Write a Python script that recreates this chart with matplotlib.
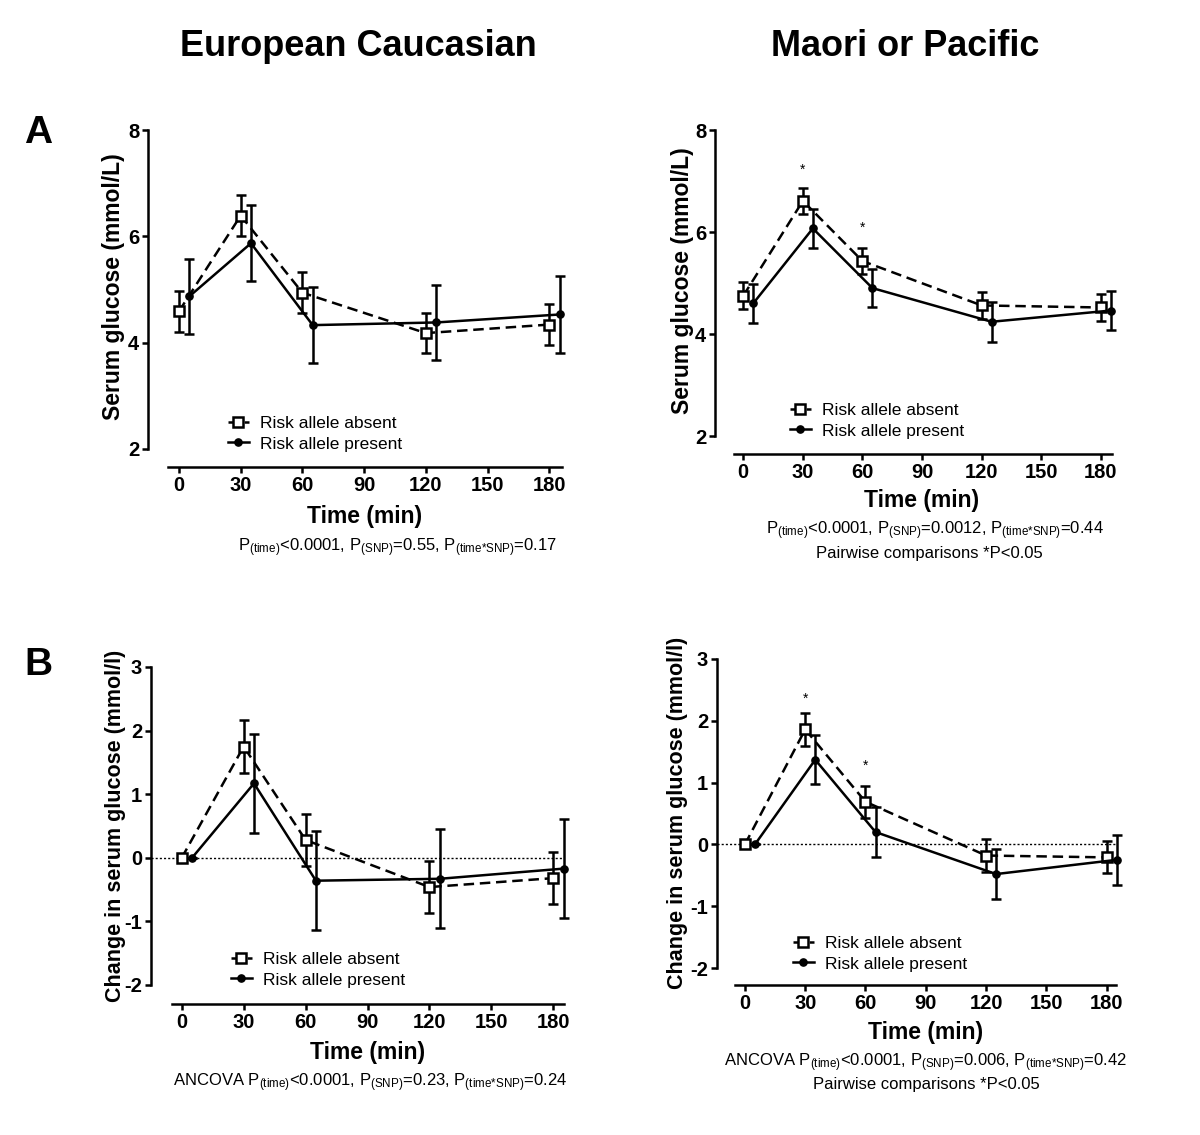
import matplotlib
matplotlib.use("Agg")
import matplotlib.pyplot as plt

plt.rcParams['font.family'] = ['Liberation Sans', 'DejaVu Sans']
plt.rcParams['mathtext.fontset'] = 'custom'
plt.rcParams['mathtext.rm'] = 'Liberation Sans'
plt.rcParams['mathtext.it'] = 'Liberation Sans'
plt.rcParams['mathtext.bf'] = 'Liberation Sans:bold'

# ---------------- data ----------------
times = [0, 30, 60, 120, 180]
x_ticks = [0, 30, 60, 90, 120, 150, 180]

# Panel A: serum glucose (mmol/L), mean and error
ec_abs_mean = [4.59, 6.39, 4.94, 4.18, 4.34]
ec_abs_err = [0.38, 0.39, 0.38, 0.38, 0.38]
ec_pres_mean = [4.87, 5.87, 4.33, 4.38, 4.53]
ec_pres_err = [0.71, 0.71, 0.71, 0.71, 0.72]

mp_abs_mean = [4.75, 6.61, 5.43, 4.56, 4.52]
mp_abs_err = [0.26, 0.25, 0.26, 0.26, 0.26]
mp_pres_mean = [4.60, 6.07, 4.90, 4.24, 4.46]
mp_pres_err = [0.39, 0.39, 0.38, 0.39, 0.38]

# Panel B: change in serum glucose (mmol/l)
ec_chg_abs_mean = [0.0, 1.75, 0.28, -0.46, -0.32]
ec_chg_abs_err = [0.0, 0.41, 0.41, 0.41, 0.41]
ec_chg_pres_mean = [0.0, 1.17, -0.36, -0.33, -0.17]
ec_chg_pres_err = [0.0, 0.78, 0.78, 0.78, 0.78]

mp_chg_abs_mean = [0.0, 1.86, 0.69, -0.18, -0.21]
mp_chg_abs_err = [0.0, 0.27, 0.26, 0.26, 0.26]
mp_chg_pres_mean = [0.0, 1.37, 0.20, -0.48, -0.25]
mp_chg_pres_err = [0.0, 0.40, 0.41, 0.40, 0.41]

# significance stars (time, y)
mp_a_star_t = [30, 60]
mp_a_star_y = [7.22, 6.09]
mp_b_star_t = [30, 60]
mp_b_star_y = [2.35, 1.28]

yticks_a = [2, 4, 6, 8]
yticks_b = [-2, -1, 0, 1, 2, 3]

label_abs = "Risk allele absent"
label_pres = "Risk allele present"

# ---------------- figure ----------------
W, H = 1200, 1135
DPI = 100
fig = plt.figure(figsize=(W / DPI, H / DPI), dpi=DPI)
PT = 72.0 / DPI  # points per pixel
NUDGE = 5  # horizontal nudge for the "present" series (minutes)
LW = 1.8


def fx(px):
    return px / W


def fy(py):
    return 1 - py / H


def make_axes(left, right, top, bottom, xl, xr, xb, ylim, yticks, offset_px):
    ax = fig.add_axes([fx(left), fy(bottom), fx(right - left), (bottom - top) / H])
    ax.set_xlim(xl, xr)
    ax.set_ylim(*ylim)
    for s in ['top', 'right']:
        ax.spines[s].set_visible(False)
    ax.spines['left'].set_linewidth(LW)
    ax.spines['bottom'].set_linewidth(LW)
    ax.spines['bottom'].set_position(('outward', offset_px * PT))
    ax.spines['bottom'].set_bounds(xb, xr)
    ax.set_xticks(x_ticks)
    ax.set_xticklabels([str(t) for t in x_ticks], fontweight='bold', fontsize=14.5)
    ax.set_yticks(yticks)
    ax.set_yticklabels([str(t) for t in yticks], fontweight='bold', fontsize=14.5)
    ax.tick_params(axis='x', direction='out', length=6 * PT, width=LW, pad=2.5)
    ax.tick_params(axis='y', direction='out', length=6 * PT, width=LW, pad=2)
    ax.patch.set_alpha(0)
    return ax


def draw_series(ax, am, ae, pm, pe):
    tp = [t + NUDGE for t in times]
    ax.errorbar(times, am, yerr=ae, fmt='none', ecolor='black', elinewidth=LW,
                capsize=3.8, capthick=LW, zorder=2, clip_on=False)
    ax.errorbar(tp, pm, yerr=pe, fmt='none', ecolor='black', elinewidth=LW,
                capsize=3.8, capthick=LW, zorder=2, clip_on=False)
    ax.plot(times, am, color='black', lw=LW, dashes=(4.2, 2.3),
            marker='s', markersize=6.5, markerfacecolor='white',
            markeredgecolor='black', markeredgewidth=LW, zorder=3,
            label=label_abs, clip_on=False)
    ax.plot(tp, pm, color='black', lw=LW, marker='o', markersize=5.2,
            markerfacecolor='black', markeredgecolor='black', zorder=4,
            label=label_pres, clip_on=False)


def add_legend(ax, x_px, y_px):
    ax.legend(loc='upper left', bbox_to_anchor=(fx(x_px), fy(y_px)),
              bbox_transform=fig.transFigure, frameon=False, fontsize=12.5,
              borderpad=0, borderaxespad=0, handlelength=1.2, handletextpad=0.65,
              labelspacing=0.3, numpoints=1)


# axes geometry: left, right, top, bottom (pixels), xlim, spine start, offset
ax1 = make_axes(148, 562, 130, 449, -15.07, 186.2, -5.2, (2, 8), yticks_a, 18)
ax2 = make_axes(715, 1112, 130, 436, -14.25, 185.6, -4.7, (2, 8), yticks_a, 18)
ax3 = make_axes(151, 564, 667, 985, -14.9, 185.2, -4.8, (-2, 3), yticks_b, 19)
ax4 = make_axes(717, 1116, 659, 968, -13.9, 184.7, -5.0, (-2, 3), yticks_b, 17)

draw_series(ax1, ec_abs_mean, ec_abs_err, ec_pres_mean, ec_pres_err)
draw_series(ax2, mp_abs_mean, mp_abs_err, mp_pres_mean, mp_pres_err)
draw_series(ax3, ec_chg_abs_mean, ec_chg_abs_err, ec_chg_pres_mean, ec_chg_pres_err)
draw_series(ax4, mp_chg_abs_mean, mp_chg_abs_err, mp_chg_pres_mean, mp_chg_pres_err)

for ax in (ax3, ax4):
    ax.axhline(0, color='black', lw=1.0, ls=(0, (1.5, 1.5)), zorder=1)

for t, y in zip(mp_a_star_t, mp_a_star_y):
    ax2.text(t, y, "*", ha='center', va='center', fontsize=10)
for t, y in zip(mp_b_star_t, mp_b_star_y):
    ax4.text(t, y, "*", ha='center', va='center', fontsize=10)

add_legend(ax1, 228, 416)
add_legend(ax2, 790, 403)
add_legend(ax3, 231, 952)
add_legend(ax4, 793, 936)

# axis labels
ylab_a = "Serum glucose (mmol/L)"
ylab_b = "Change in serum glucose (mmol/l)"
xlab = "Time (min)"


def set_labels(ax, ylab, ysize, ylab_c, xlab_c, box):
    left, right, top, bottom = box
    ax.set_ylabel(ylab, fontsize=ysize, fontweight='bold')
    ax.yaxis.label.set_va('center')
    ax.yaxis.set_label_coords((ylab_c[0] - left) / (right - left),
                              (bottom - ylab_c[1]) / (bottom - top))
    ax.set_xlabel(xlab, fontsize=16.5, fontweight='bold')
    ax.xaxis.label.set_va('center')
    ax.xaxis.set_label_coords((xlab_c[0] - left) / (right - left),
                              (bottom - xlab_c[1]) / (bottom - top))


set_labels(ax1, ylab_a, 16.5, (114, 287), (365, 517), (148, 562, 130, 449))
set_labels(ax2, ylab_a, 16.5, (682, 281), (922, 500), (715, 1112, 130, 436))
set_labels(ax3, ylab_b, 15.5, (116, 826), (368, 1053), (151, 564, 667, 985))
set_labels(ax4, ylab_b, 15.5, (677, 813), (926, 1033), (717, 1116, 659, 968))

# titles and panel letters
fig.text(fx(358), fy(47), "European Caucasian", ha='center', va='center',
         fontsize=26, fontweight='bold')
fig.text(fx(905), fy(47), "Maori or Pacific", ha='center', va='center',
         fontsize=26, fontweight='bold')
fig.text(fx(38), fy(133), "A", ha='center', va='center', fontsize=28, fontweight='bold')
fig.text(fx(38), fy(665), "B", ha='center', va='center', fontsize=28, fontweight='bold')


def sub(s):
    return r"$_{\mathregular{" + s + "}}$"


inter = "(time{*}SNP)"
p_tl = "P" + sub("(time)") + "<0.0001, P" + sub("(SNP)") + "=0.55, P" + sub(inter) + "=0.17"
p_tr = "P" + sub("(time)") + "<0.0001, P" + sub("(SNP)") + "=0.0012, P" + sub(inter) + "=0.44"
p_bl = "ANCOVA P" + sub("(time)") + "<0.0001, P" + sub("(SNP)") + "=0.23, P" + sub(inter) + "=0.24"
p_br = "ANCOVA P" + sub("(time)") + "<0.0001, P" + sub("(SNP)") + "=0.006, P" + sub(inter) + "=0.42"
pairwise = "Pairwise comparisons *P<0.05"

fig.text(fx(397), fy(548), p_tl, ha='center', va='center', fontsize=12)
fig.text(fx(935), fy(531), p_tr, ha='center', va='center', fontsize=12)
fig.text(fx(929), fy(553), pairwise, ha='center', va='center', fontsize=12)
fig.text(fx(370), fy(1083), p_bl, ha='center', va='center', fontsize=12)
fig.text(fx(926), fy(1063), p_br, ha='center', va='center', fontsize=12)
fig.text(fx(926), fy(1085), pairwise, ha='center', va='center', fontsize=12)

fig.savefig("out.png", dpi=DPI)
